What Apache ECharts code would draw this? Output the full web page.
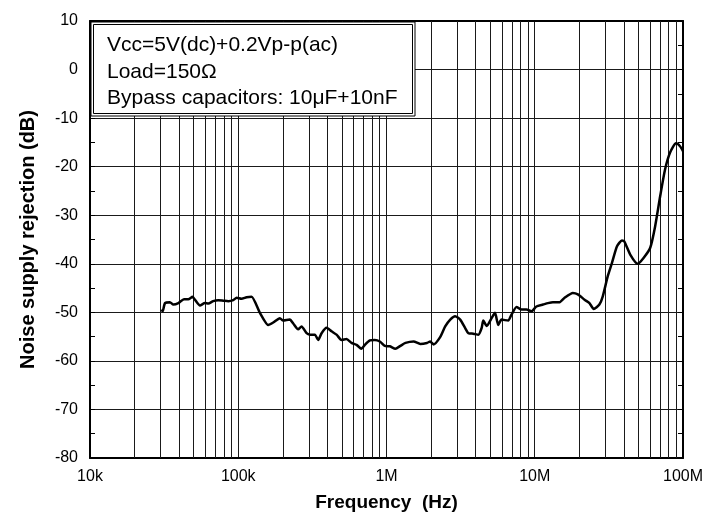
<!DOCTYPE html>
<html>
<head>
<meta charset="utf-8">
<script src="https://cdn.jsdelivr.net/npm/echarts@6/dist/echarts.min.js"></script>
<style>
html,body{margin:0;padding:0;background:#fff;}
#chart{width:706px;height:519px;}
</style>
</head>
<body>
<div id="chart"></div>
<script>
// ---- data ----
const freqHz = [
  30410, 30900, 32060, 34590, 36480, 39450, 43050, 46030, 49200, 51050,
  55210, 59570, 62810, 67760, 73280, 79250, 85700, 92470, 97500, 105200,
  113800, 123000, 140000, 159200, 172200, 191000, 200900, 222800, 235000, 253500,
  267300, 289100, 304100, 328900, 345900, 364800, 394500, 425600, 460300, 497700,
  537000, 580800, 628100, 677600, 714500, 772700, 833700, 901500, 975000, 1052000,
  1148000, 1242000, 1343000, 1524000, 1690000, 1875000, 1972000, 2080000, 2301000, 2489000,
  2692000, 2904000, 3141000, 3388000, 3573000, 3855000, 4169000, 4385000, 4498000, 4742000,
  5117000, 5395000, 5675000, 5970000, 6622000, 6966000, 7534000, 8147000, 8790000, 9506000,
  10260000, 11380000, 12270000, 13270000, 14720000, 15890000, 18070000, 19540000, 21680000, 23390000,
  25000000, 27290000, 28770000, 31050000, 33190000, 35890000, 38730000, 40180000, 44060000, 49430000,
  54200000, 60120000, 64860000, 70150000, 75680000, 81850000, 89740000, 95500000, 100000000
];
const rejectionDb = [
  -49.4, -49.8, -48.1, -47.9, -48.4, -48.1, -47.3, -47.3, -46.8, -47.4,
  -48.6, -48.1, -48.2, -47.7, -47.5, -47.6, -47.7, -47.5, -47.0, -47.2,
  -46.9, -46.8, -50.1, -52.6, -52.1, -51.2, -51.7, -51.5, -52.3, -53.5,
  -52.9, -54.3, -54.6, -54.6, -55.7, -54.3, -53.2, -53.9, -54.6, -55.7,
  -55.5, -56.3, -56.7, -57.5, -56.7, -55.8, -55.7, -56.0, -56.9, -57.0,
  -57.5, -56.9, -56.3, -56.0, -56.5, -56.3, -56.0, -56.6, -55.1, -52.9,
  -51.5, -50.8, -51.5, -53.2, -54.3, -54.4, -54.6, -53.2, -51.7, -52.8,
  -51.2, -50.1, -52.6, -51.5, -51.7, -50.5, -48.9, -49.4, -49.4, -49.8,
  -48.8, -48.4, -48.1, -47.9, -47.9, -47.0, -46.0, -46.3, -47.4, -48.1,
  -49.3, -48.4, -46.7, -42.6, -39.8, -36.4, -35.2, -35.4, -38.1, -40.0,
  -38.8, -36.7, -32.3, -26.1, -20.6, -17.1, -15.2, -15.8, -16.8
];
const xTickLabels = ['10k', '100k', '1M', '10M', '100M'];
const xMin = 1e4, xMax = 1e8;
const yMin = -80, yMax = 10, yStep = 10;
const decadeStarts = [1e4, 1e5, 1e6, 1e7];
const gridMultipliers = [2, 3, 4, 5, 6, 7, 8, 9];
const noteLines = [
  'Vcc=5V(dc)+0.2Vp-p(ac)',
  'Load=150\u03A9',
  'Bypass capacitors: 10\u03BCF+10nF'
];

const FONT = "'Liberation Sans', Arial, Helvetica, sans-serif";
const chart = echarts.init(document.getElementById('chart'), null, {renderer: 'canvas'});

const minorGrid = [];
decadeStarts.forEach(d => gridMultipliers.forEach(m => minorGrid.push({xAxis: d * m})));

const data = freqHz.map((f, i) => [f, rejectionDb[i]]);

const gridLineStyle = {color: '#1a1a1a', width: 1, type: 'solid'};

const option = {
  animation: false,
  backgroundColor: '#fff',
  grid: {left: 90, right: 23, top: 21, bottom: 61, containLabel: false},
  xAxis: [{
    type: 'log', logBase: 10, min: xMin, max: xMax, splitNumber: 4,
    position: 'bottom',
    name: 'Frequency  (Hz)', nameLocation: 'middle', nameGap: 35,
    nameTextStyle: {fontFamily: FONT, fontSize: 19, fontWeight: 'bold', color: '#000'},
    axisLine: {show: true, onZero: false, lineStyle: {color: '#000', width: 2}},
    axisTick: {show: false},
    axisLabel: {
      show: true, margin: 11, color: '#000', fontFamily: FONT, fontSize: 16,
      formatter: v => xTickLabels[Math.round(Math.log10(v)) - 4] || ''
    },
    splitLine: {show: true, lineStyle: gridLineStyle}
  }, {
    type: 'log', logBase: 10, min: xMin, max: xMax, splitNumber: 4,
    position: 'top',
    axisLine: {show: true, onZero: false, lineStyle: {color: '#000', width: 2}},
    axisTick: {show: false}, axisLabel: {show: false}, splitLine: {show: false}
  }],
  yAxis: [{
    type: 'value', min: yMin, max: yMax, interval: yStep,
    position: 'left',
    name: 'Noise supply rejection (dB)', nameLocation: 'middle', nameGap: 52,
    nameTextStyle: {fontFamily: FONT, fontSize: 20, fontWeight: 'bold', color: '#000'},
    axisLine: {show: true, onZero: false, lineStyle: {color: '#000', width: 2}},
    axisTick: {show: true, inside: true, length: 5, lineStyle: {color: '#000'}},
    minorTick: {show: true, splitNumber: 2, length: 5, lineStyle: {color: '#000'}},
    axisLabel: {show: true, margin: 12, color: '#000', fontFamily: FONT, fontSize: 16},
    splitLine: {show: true, lineStyle: gridLineStyle}
  }, {
    type: 'value', min: yMin, max: yMax, interval: yStep,
    position: 'right',
    axisLine: {show: true, onZero: false, lineStyle: {color: '#000', width: 2}},
    axisTick: {show: true, inside: true, length: 5, lineStyle: {color: '#000'}},
    minorTick: {show: true, splitNumber: 2, length: 5, lineStyle: {color: '#000'}},
    axisLabel: {show: false}, splitLine: {show: false}
  }],
  series: [{
    name: 'grid', type: 'line', data: [], z: 1, silent: true,
    markLine: {
      silent: true, symbol: ['none', 'none'], animation: false,
      label: {show: false},
      lineStyle: gridLineStyle,
      emphasis: {disabled: true},
      data: minorGrid
    }
  }, {
    name: 'rejection', type: 'line', data: data, z: 5,
    showSymbol: false, symbol: 'none', smooth: 0.2,
    lineStyle: {color: '#000', width: 2.5},
    clip: true
  }],
  graphic: [
    {type: 'rect', z: 100, shape: {x: 91, y: 22, width: 324, height: 94},
     style: {fill: '#fff', stroke: '#000', lineWidth: 1}},
    {type: 'rect', z: 101, shape: {x: 93.5, y: 24.5, width: 319, height: 89},
     style: {fill: 'none', stroke: '#000', lineWidth: 1}},
    ...noteLines.map((t, i) => ({
      type: 'text', z: 102, x: 107, y: 45.5 + i * 26.5,
      style: {text: t, fontFamily: FONT, fontSize: 21, fill: '#000', textVerticalAlign: 'middle', verticalAlign: 'middle'}
    }))
  ]
};
chart.setOption(option);
</script>
</body>
</html>
